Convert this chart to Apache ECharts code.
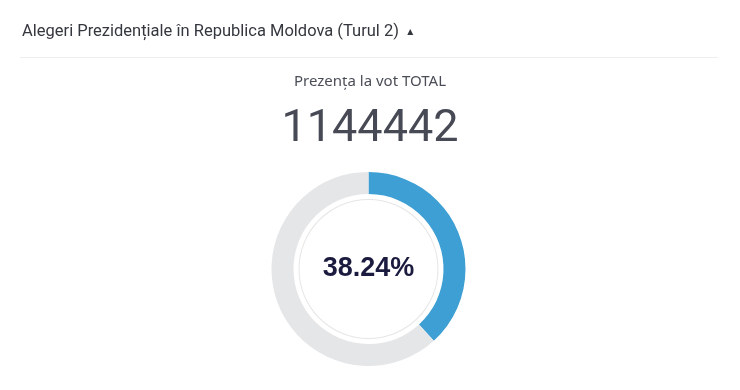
<!DOCTYPE html>
<html>
<head>
<meta charset="utf-8">
<script src="https://cdn.jsdelivr.net/npm/echarts@6/dist/echarts.min.js"></script>
<style>
html,body{margin:0;padding:0;background:#fff;}
#c{width:740px;height:390px;}
</style>
</head>
<body>
<div id="c"></div>
<script>
var headerTitle = 'Alegeri Prezidențiale în Republica Moldova (Turul 2)';
var subTitle = 'Prezența la vot TOTAL';
var turnoutTotal = 1144442;
var categories = ['Au votat', 'Nu au votat'];
var turnoutPercent = [38.24, 61.76];

var chart = echarts.init(document.getElementById('c'), null, {renderer: 'canvas'});
chart.setOption({
  backgroundColor: '#ffffff',
  animation: false,
  title: [
    {
      text: '{t|' + headerTitle + '}{a|  \u25B4}',
      left: 17, top: 18,
      textStyle: {
        rich: {
          t: {fontFamily: 'Roboto', fontSize: 16.5, fontWeight: 'normal', color: '#34373e'},
          a: {fontFamily: 'DejaVu Sans', fontSize: 12, color: '#34373e'}
        }
      }
    },
    {
      text: subTitle,
      left: 'center', top: 69,
      textStyle: {fontFamily: 'Noto Sans', fontSize: 15, fontWeight: 'normal', color: '#4b4e57'}
    },
    {
      text: String(turnoutTotal),
      left: 'center', top: 102,
      textStyle: {fontFamily: 'Roboto', fontSize: 45, fontWeight: 'normal', color: '#474a55'}
    }
  ],
  graphic: [
    {
      type: 'line',
      shape: {x1: 20, y1: 57.5, x2: 718, y2: 57.5},
      style: {stroke: '#eeeeee', lineWidth: 1}
    }
  ],
  series: [
    {
      type: 'pie',
      center: [368.5, 269],
      radius: [75, 97],
      startAngle: 90,
      clockwise: true,
      silent: true,
      label: {
        show: true,
        position: 'center',
        formatter: function () { return turnoutPercent[0].toFixed(2) + '%'; },
        fontFamily: 'Liberation Sans',
        fontWeight: 'bold',
        fontSize: 27,
        color: '#1b1a3f'
      },
      labelLine: {show: false},
      emphasis: {disabled: true},
      data: [
        {name: categories[0], value: turnoutPercent[0], itemStyle: {color: '#3d9fd3'}},
        {name: categories[1], value: turnoutPercent[1], itemStyle: {color: '#e5e6e8'}, label: {show: false}}
      ]
    },
    {
      type: 'pie',
      center: [368.5, 269],
      radius: [69, 70],
      silent: true,
      label: {show: false},
      labelLine: {show: false},
      emphasis: {disabled: true},
      data: [{name: 'ring', value: 1, itemStyle: {color: '#e6e6e6'}}]
    }
  ]
});
</script>
</body>
</html>
